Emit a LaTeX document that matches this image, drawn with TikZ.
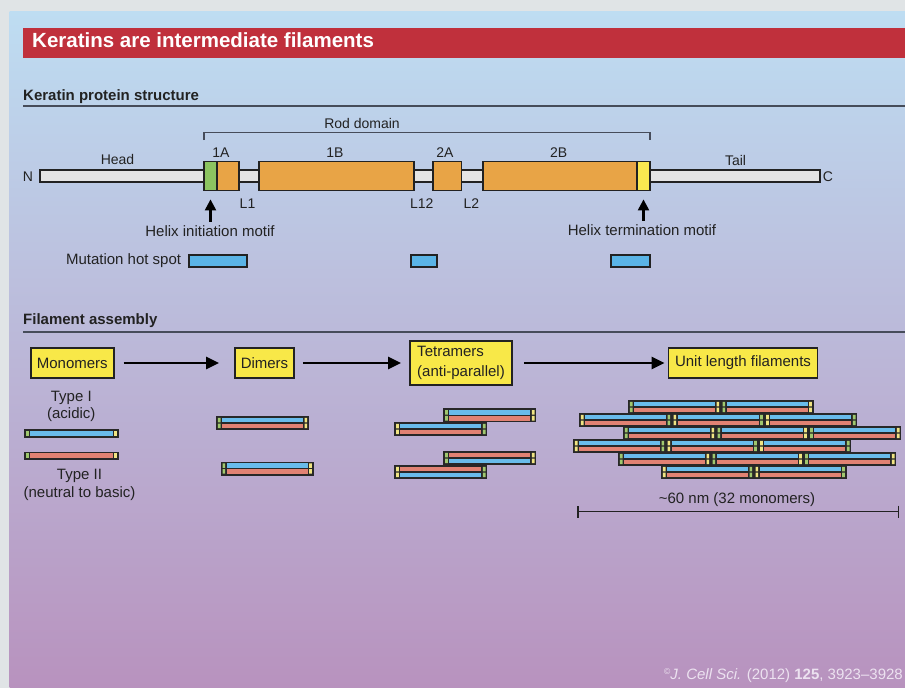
\documentclass[tikz,border=0pt]{standalone}
\usepackage{fontspec}
\setmainfont{Liberation Sans}
\usetikzlibrary{arrows.meta, positioning, calc}
\definecolor{bggray}{RGB}{224, 228, 230}
\definecolor{paneltop}{RGB}{190, 221, 242}
\definecolor{panelmid}{RGB}{189, 196, 228}
\definecolor{panelbot}{RGB}{184, 146, 190}
\definecolor{titlered}{RGB}{192, 48, 60}
\definecolor{inkgray}{RGB}{34, 34, 34}
\definecolor{rulegray}{RGB}{70, 76, 90}
\definecolor{segorange}{RGB}{232, 164, 70}
\definecolor{seggreen}{RGB}{140, 196, 96}
\definecolor{segyellow}{RGB}{250, 232, 80}
\definecolor{bargray}{RGB}{228, 228, 228}
\definecolor{hotblue}{RGB}{90, 180, 230}
\definecolor{boxyellow}{RGB}{248, 232, 72}
\definecolor{rodblue}{RGB}{105, 188, 235}
\definecolor{rodred}{RGB}{225, 130, 115}
\definecolor{rodedge}{RGB}{40, 40, 40}
\definecolor{capgreen}{RGB}{160, 200, 110}
\definecolor{capyellow}{RGB}{240, 228, 130}
\definecolor{citetext}{RGB}{236, 226, 240}

% one keratin chain, left top corner at #1,#2
\newcommand{\kmono}[3]{%
  \begin{scope}[shift={(#1,#2)}]
    \fill[rodedge] (0,0) rectangle (94.5,8.5);
    \fill[#3] (6,1.8) rectangle (88.5,6.7);
    \fill[capgreen] (1.8,1.8) rectangle (4.4,6.7);
    \fill[capyellow] (90.1,1.8) rectangle (92.7,6.7);
  \end{scope}}
% two chains side by side: top colour, bottom colour, left caps, right caps
\newcommand{\kdimer}[6]{%
  \begin{scope}[shift={(#1,#2)}]
    \fill[rodedge] (0,0) rectangle (93,14);
    \fill[#3] (6,1.8) rectangle (87,6.4);
    \fill[#4] (6,7.6) rectangle (87,12.2);
    \fill[#5] (1.8,1.8) rectangle (4.5,6.4) (1.8,7.6) rectangle (4.5,12.2);
    \fill[#6] (88.5,1.8) rectangle (91.2,6.4) (88.5,7.6) rectangle (91.2,12.2);
  \end{scope}}

\begin{document}
\begin{tikzpicture}[x=1pt, y=-1pt,
  txt/.style={font=\fontsize{15}{17}\selectfont, text=inkgray, inner sep=1pt},
  lbl/.style={font=\fontsize{14}{16}\selectfont, text=inkgray, inner sep=1pt},
  heading/.style={font=\bfseries\fontsize{15}{18}\selectfont, text=inkgray, inner sep=0pt, anchor=base west},
  hrule/.style={draw=rulegray, line width=1.6pt},
  rodbracket/.style={draw=rulegray, line width=1.2pt},
  chainbar/.style={draw=inkgray, fill=bargray, line width=1.8pt, minimum height=12, inner sep=0pt},
  seg/.style={draw=inkgray, fill=segorange, line width=1.8pt, minimum height=29, inner sep=0pt},
  hot/.style={draw=inkgray, fill=hotblue, line width=1.8pt, minimum height=11.5, inner sep=0pt},
  stage/.style={draw=inkgray, fill=boxyellow, line width=1.8pt, font=\fontsize{15}{20}\selectfont, text=inkgray, minimum height=29.5, inner sep=0pt},
  motif/.style={-{Triangle[width=11pt,length=11pt]}, line width=2.2pt, draw=black},
  flow/.style={-{Triangle[width=12pt,length=13pt]}, line width=2.4pt, draw=black},
  scalebar/.style={{Bar[width=12pt]}-{Bar[width=12pt]}, line width=1.5pt, draw=inkgray}
]
  \useasboundingbox (0,0) rectangle (905,688);
  \fill[bggray] (0,0) rectangle (905,688);
  \shade[top color=paneltop, middle color=panelmid, bottom color=panelbot] (9.5,11.5) rectangle (905,688);

  \fill[titlered] (23,28) rectangle (905,57.5);
  \node[anchor=base west, text=white, font=\bfseries\fontsize{20.5}{24}\selectfont, inner sep=0pt] (title) at (32,47.7) {Keratins are intermediate filaments};

  % protein structure
  \node[heading] (secprot) at (23,100.5) {Keratin protein structure};
  \draw[hrule] (23,106) -- (905,106);

  \draw[rodbracket] (204,140) |- (650,132.5) -- (650,140);
  \node[lbl] (rod) at (362,123) {Rod domain};

  \node[chainbar, minimum width=780] (chn) at (430,176) {};
  \node[lbl, anchor=east] (nterm) at (34.3,177) {N};
  \node[lbl, anchor=west] (cterm) at (821.7,177) {C};

  \node[seg, fill=seggreen, minimum width=13] (h1a) at (210.5,176) {};
  \node[seg, minimum width=22] (s1a) at (228,176) {};
  \node[seg, minimum width=155] (s1b) at (336.5,176) {};
  \node[seg, minimum width=28.5] (s2a) at (447.25,176) {};
  \node[seg, minimum width=154] (s2b) at (560,176) {};
  \node[seg, fill=segyellow, minimum width=13] (h2b) at (643.5,176) {};

  \node[lbl] (head) at (117.5,159.5) {Head};
  \node[lbl] (l1a) at (221,152.5) {1A};
  \node[lbl] (l1b) at (335,152.5) {1B};
  \node[lbl] (l2a) at (445,152.5) {2A};
  \node[lbl] (l2b) at (558.7,152.5) {2B};
  \node[lbl] (tail) at (735.5,160) {Tail};
  \node[lbl] (link1) at (247.5,203.7) {L1};
  \node[lbl] (link12) at (421.7,203.7) {L12};
  \node[lbl] (link2) at (471.3,203.7) {L2};

  \node[txt] (hinit) at (210,231.5) {Helix initiation motif};
  \node[txt] (hterm) at (642,230.5) {Helix termination motif};
  \draw[motif, shorten <=3pt, shorten >=8pt] (h1a.south |- hinit.north) -- (h1a.south);
  \draw[motif, shorten <=3pt, shorten >=8pt] (h2b.south |- hterm.north) -- (h2b.south);

  \node[hot, minimum width=58] (hot1) at (218.2,261) {};
  \node[hot, minimum width=26] (hot2) at (423.7,261) {};
  \node[hot, minimum width=39.3] (hot3) at (630.3,261) {};
  \node[txt, left=6pt of hot1] (hotlbl) {Mutation hot spot};

  % assembly
  \node[heading] (secfil) at (23,324) {Filament assembly};
  \draw[hrule] (23,332) -- (905,332);

  \node[stage, minimum width=83] (mono) at (72.3,363) {Monomers};
  \node[stage, minimum width=59] (dim) at (264.5,363) {Dimers};
  \node[stage, minimum width=102, minimum height=44, align=left] (tetra) at (461,363) {Tetramers\\(anti-parallel)};
  \node[stage, minimum width=149] (ulf) at (743,363) {Unit length filaments};

  \draw[flow, shorten <=9pt, shorten >=15pt] (mono) -- (dim);
  \draw[flow, shorten <=8pt, shorten >=8pt] (dim) -- (tetra);
  \draw[flow, shorten <=11pt, shorten >=3pt] (tetra) -- (ulf);

  \node[txt, align=center] (type1) at (71.3,406.3) {Type I\\(acidic)};
  \node[txt, align=center, font=\fontsize{15}{18}\selectfont] (type2) at (79.5,485.1) {Type II\\(neutral to basic)};
  \kmono{24.3}{429.3}{rodblue}
  \kmono{24.3}{451.5}{rodred}

  \kdimer{216}{416}{rodblue}{rodred}{capgreen}{capyellow}
  \kdimer{220.7}{461.5}{rodblue}{rodred}{capgreen}{capyellow}

  \kdimer{443.3}{408.3}{rodblue}{rodred}{capgreen}{capyellow}
  \kdimer{394.3}{422}{rodblue}{rodred}{capyellow}{capgreen}
  \kdimer{443.3}{451}{rodred}{rodblue}{capgreen}{capyellow}
  \kdimer{394.3}{465}{rodred}{rodblue}{capyellow}{capgreen}

  \foreach \y/\x/\n [count=\r] in {400/628/2, 413/579/3, 426/623/3, 439/573/3, 452/618/3, 465/661/2}{
    \foreach \k in {1,...,\n}{
      \pgfmathsetmacro\xx{\x+(\k-1)*92.7}
      \ifodd\r
        \kdimer{\xx}{\y}{rodblue}{rodred}{capgreen}{capyellow}
      \else
        \kdimer{\xx}{\y}{rodblue}{rodred}{capyellow}{capgreen}
      \fi
    }
  }

  \node[txt] (scalelbl) at (737,500) {\textasciitilde60 nm (32 monomers)};
  \coordinate (barl) at (577.3,511.7);
  \coordinate (barr) at (899.3,511.7);
  \draw[scalebar] (barl) -- (barr);

  \node[anchor=base east, text=citetext, font=\fontsize{15}{17}\selectfont, inner sep=0pt] (cite) at (903,679) {\raisebox{0.55ex}{\fontsize{8.5}{8.5}\selectfont ©}\textit{J. Cell Sci.} (2012) \textbf{125}, 3923--3928};
\end{tikzpicture}
\end{document}
